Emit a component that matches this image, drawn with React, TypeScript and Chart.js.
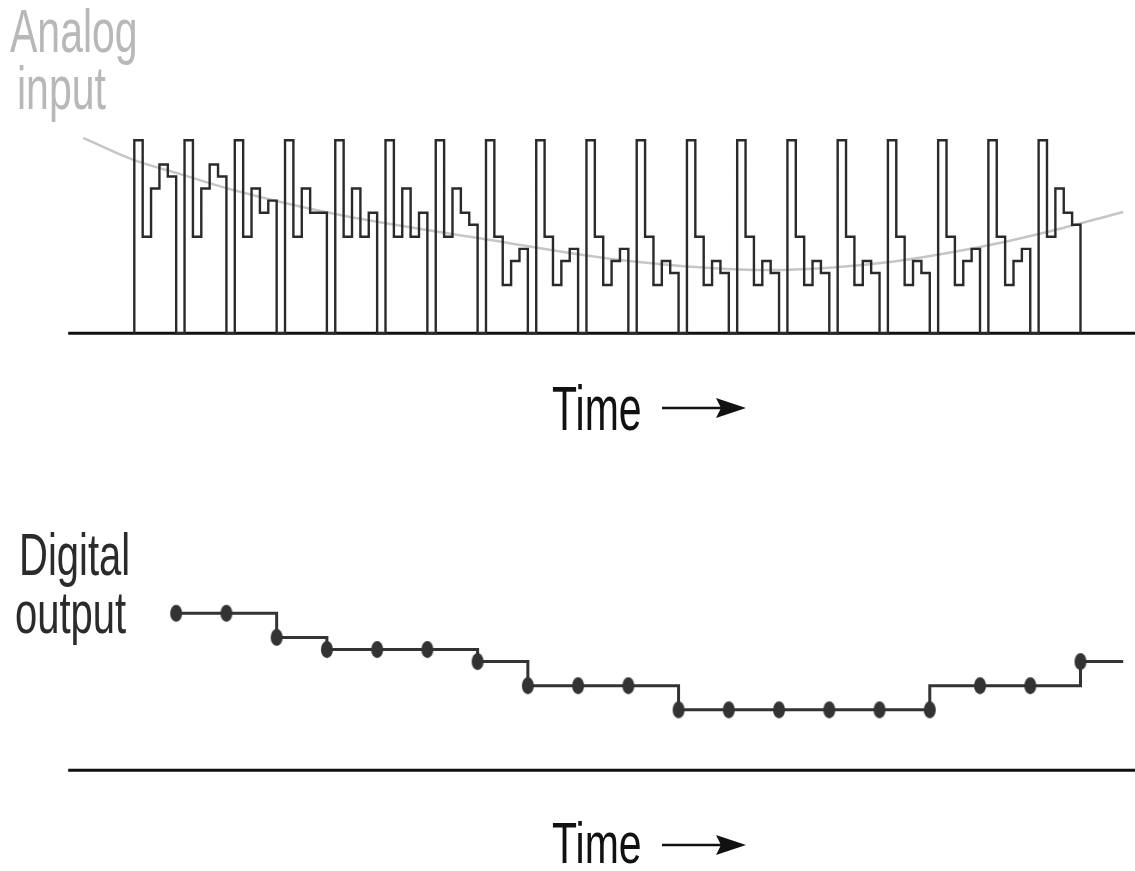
import React, { useEffect, useRef } from "react";
import { Chart, registerables } from "chart.js";

Chart.register(...registerables);

// ---- Data (time unit = one comparator step; 6 steps per conversion cycle) ----
const CYCLE_STEPS = 6;
const FULL_SCALE = 8;      // reset pulse level
const FIRST_TRIAL = 4;     // first (mid-scale) trial
const secondTrial = [6, 6, 6, 6, 6, 6, 6, 2, 2, 2, 2, 2, 2, 2, 2, 2, 2, 2, 6];
const thirdTrial = [7, 7, 5, 5, 4, 4, 5, 3, 3, 3, 3, 3, 3, 3, 3, 3, 3, 3, 5];
const digitalOutput = [6.5, 6.5, 5.5, 5, 5, 5, 4.5, 3.5, 3.5, 3.5, 2.5, 2.5, 2.5, 2.5, 2.5, 2.5, 3.5, 3.5, 4.5];
// sample indices after which the output line steps immediately (drawn vertical-first)
const earlySteps = [15];
const analogTime = [-6.1, 0, 5.5, 11.8, 24.6, 42.5, 58, 75.9, 89.1, 101, 109, 118.1];
const analogLevel = [8.1, 7.18, 6.6, 5.94, 4.9, 3.87, 3.04, 2.62, 2.91, 3.58, 4.2, 5.03];
const OUTPUT_TAIL_TIME = 118.1;
const AXIS_START = -7.9;
const AXIS_END = 119.6;

// ---- Layout constants ----
const X_MIN = -16.04;
const X_MAX = 119.51;
const TOP_Y_MIN = -0.485;
const TOP_Y_MAX = 13.816;
const BOT_Y_MIN = -4.18;
const BOT_Y_MAX = 17.62;

function buildWave() {
  const pts: { x: number; y: number }[] = [{ x: 0, y: 0 }];
  digitalOutput.forEach((d, k) => {
    const t0 = k * CYCLE_STEPS;
    const levels = [FULL_SCALE, FIRST_TRIAL, secondTrial[k], thirdTrial[k], d, 0];
    levels.forEach((v, j) => pts.push({ x: t0 + j, y: v }));
  });
  return pts;
}

function buildOutput() {
  const pts: { x: number; y: number }[] = [];
  const radii: number[] = [];
  digitalOutput.forEach((d, k) => {
    const t = k * CYCLE_STEPS + 5;
    pts.push({ x: t, y: d });
    radii.push(6);
    if (earlySteps.includes(k) && k + 1 < digitalOutput.length) {
      pts.push({ x: t, y: digitalOutput[k + 1] });
      radii.push(0);
    }
  });
  pts.push({ x: OUTPUT_TAIL_TIME, y: digitalOutput[digitalOutput.length - 1] });
  radii.push(0);
  return { pts, radii };
}

function makeDot() {
  const c = document.createElement("canvas");
  c.width = 14;
  c.height = 19;
  const g = c.getContext("2d")!;
  g.fillStyle = "#333";
  g.beginPath();
  g.ellipse(7, 9.5, 6, 8.5, 0, 0, Math.PI * 2);
  g.fill();
  return c;
}

function baseOptions(yMin: number, yMax: number): any {
  return {
    responsive: false,
    animation: false,
    events: [],
    layout: { padding: 0, autoPadding: false },
    plugins: { legend: { display: false }, tooltip: { enabled: false } },
    scales: {
      x: { type: "linear", min: X_MIN, max: X_MAX, display: false },
      y: { type: "linear", min: yMin, max: yMax, display: false },
    },
  };
}

const baseline = () => ({
  data: [
    { x: AXIS_START, y: 0 },
    { x: AXIS_END, y: 0 },
  ],
  showLine: true,
  borderColor: "#111",
  borderWidth: 3,
  pointRadius: 0,
});

const textBase: React.CSSProperties = {
  position: "absolute",
  fontFamily: '"Liberation Sans", Arial, sans-serif',
  whiteSpace: "nowrap",
  transformOrigin: "0 0",
  margin: 0,
};

function Label({ text, left, top, size, sy, color }: any) {
  return (
    <div
      style={{
        ...textBase,
        left,
        top,
        fontSize: size,
        lineHeight: `${size}px`,
        transform: `scaleY(${sy})`,
        color,
      }}
    >
      {text}
    </div>
  );
}

function Arrow({ y }: { y: number }) {
  return (
    <svg style={{ position: "absolute", left: 655, top: y - 15 }} width={100} height={30}>
      <line x1={7} y1={15} x2={68} y2={15} stroke="#111" strokeWidth={2.5} />
      <polygon points="61,5 91,15 61,25 66,15" fill="#111" />
    </svg>
  );
}

export default function App() {
  const topRef = useRef<HTMLCanvasElement>(null);
  const botRef = useRef<HTMLCanvasElement>(null);

  useEffect(() => {
    const wave = buildWave();
    const analog = analogTime.map((t, i) => ({ x: t, y: analogLevel[i] }));
    const top = new Chart(topRef.current!, {
      type: "scatter",
      data: {
        datasets: [
          {
            data: wave,
            showLine: true,
            stepped: true,
            borderColor: "#2a2a2a",
            borderWidth: 2.4,
            borderJoinStyle: "miter",
            pointRadius: 0,
          } as any,
          {
            data: analog,
            showLine: true,
            cubicInterpolationMode: "monotone",
            borderColor: "#c6c6c6",
            borderWidth: 2.5,
            pointRadius: 0,
          } as any,
          baseline() as any,
        ],
      },
      options: baseOptions(TOP_Y_MIN, TOP_Y_MAX),
    });

    const dot = makeDot();
    const { pts, radii } = buildOutput();
    const bot = new Chart(botRef.current!, {
      type: "scatter",
      data: {
        datasets: [
          {
            data: pts,
            showLine: true,
            stepped: true,
            borderColor: "#333",
            borderWidth: 3,
            borderJoinStyle: "miter",
            pointStyle: dot,
            pointRadius: radii,
          } as any,
          baseline() as any,
        ],
      },
      options: baseOptions(BOT_Y_MIN, BOT_Y_MAX),
    });
    return () => {
      top.destroy();
      bot.destroy();
    };
  }, []);

  return (
    <div style={{ position: "absolute", left: 0, top: 0, width: 1135, height: 871, background: "#fff", overflow: "hidden" }}>
      <canvas ref={topRef} width={1135} height={345} style={{ position: "absolute", left: 0, top: 0 }} />
      <canvas ref={botRef} width={1135} height={526} style={{ position: "absolute", left: 0, top: 345 }} />
      <Label text="Analog" left={10} top={2} size={41} sy={1.47} color="#b8b8b8" />
      <Label text="input" left={17} top={59} size={41} sy={1.47} color="#b8b8b8" />
      <Label text="Digital" left={19} top={525} size={40} sy={1.47} color="#2b2b2b" />
      <Label text="output" left={15} top={583} size={40} sy={1.47} color="#2b2b2b" />
      <Label text="Time" left={552} top={377} size={41} sy={1.55} color="#111" />
      <Label text="Time" left={552} top={815} size={41} sy={1.4} color="#111" />
      <Arrow y={407.5} />
      <Arrow y={845} />
    </div>
  );
}
